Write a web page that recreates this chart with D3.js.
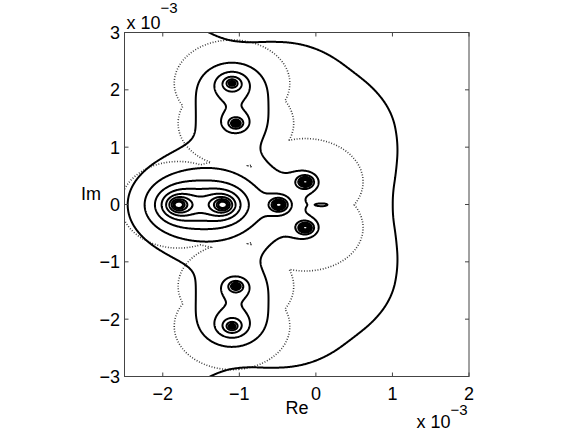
<!DOCTYPE html>
<html lang="en">
<head>
<meta charset="UTF-8">
<title>Pseudospectra contours</title>
<script src="https://cdn.jsdelivr.net/npm/d3@7"></script>
<style>
  body { margin: 0; background: #fff; }
  svg { display: block; font-family: "Liberation Sans", Arial, sans-serif; }
</style>
</head>
<body>
<svg id="chart" width="575" height="432"></svg>
<script>
// all positions in units of 1e-3

// eigenvalues: B1, B2, M, R+, R-, P+, P-, Q+, Q-
const eigRe = [-1.80, -1.22, -0.49, -0.144, -0.144, -1.05, -1.05, -1.10, -1.10];
const eigIm = [0, 0, 0, 0.40, -0.40, 1.42, -1.42, 2.12, -2.12];

// resolvent estimate: sum of weight / (|z - a| * |z - b|)^power
const termA      = [0, 5, 6, 2, 3, 4, 5, 6, 0, 1, 5, 6, 7, 8, 5, 6];
const termB      = [1, 7, 8, 2, 3, 4, 5, 6, 0, 1, 5, 6, 7, 8, 7, 8];
const termPower  = [1, 1, 1, 1, 1, 1, 1, 1, 0.5, 0.5, 0.25, 0.25, 0.25, 0.25, 0.5, 0.5];
const termWeight = [0.1445, 0.01849, 0.01849, 0.009538, 0.006588, 0.006588, 0.001757, 0.001757,
                    0.1489, 0.1489, 0.02417, 0.02417, 0.2743, 0.2743, 0.09836, 0.09836];

// small closed curve right of the origin
const bumpRe = 0.09, bumpIm = 0, bumpRx = 0.09, bumpRy = 0.03, bumpWeight = 0.2703;

// outer curve, radius vs angle around the body centre (mirrored below the axis)
const outerCenter = [-1.5, 0];
const outerAngle  = [0, 9.1, 21.3, 36.8, 46.9, 56.1, 61.6, 67.2, 74.9, 83.5, 90, 96.7, 110, 180];
const outerRadius = [2.47, 2.532, 2.748, 3.022, 3.028, 3.084, 3.15, 3.092, 2.92, 2.808, 3.0, 3.42, 3.6, 3.6];
const outerCap = 0.97;

// contour levels (solid), distance of the dotted curve to the spectrum
const solidLevels = [0.9, 1, 1.3, 1.69, 2.197, 2.856, 3.713, 4.827, 6.275, 8.157];
const dottedRadius = 0.755;

const xTicks = [-2, -1, 0, 1, 2];
const yTicks = [-3, -2, -1, 0, 1, 2, 3];

const svg = d3.select("#chart");
const x = d3.scaleLinear().domain([-2.5, 2]).range([124.5, 469]);
const y = d3.scaleLinear().domain([-3, 3]).range([376.5, 32.5]);

// smoothed radius profile for the outer curve
const radiusLin = d3.scaleLinear().domain(outerAngle).range(outerRadius).clamp(true);
const radiusTable = d3.range(0, 181).map(a => d3.mean(d3.range(-8, 9), k => radiusLin(Math.abs(a + k))));
function radiusAt(a) {
    const i = Math.min(Math.floor(a), 179), t = a - i;
    return radiusTable[i] * (1 - t) + radiusTable[i + 1] * t;
}

// sampling grid, a bit larger than the axes
const h = 0.01, gx0 = -2.6, gy0 = 3.1;
const nx = Math.round(4.7 / h) + 1, ny = Math.round(6.2 / h) + 1;
const solid = new Float64Array(nx * ny);
const dist = new Float64Array(nx * ny);
const r = new Float64Array(eigRe.length);

for (let j = 0; j < ny; j++) {
    const yy = gy0 - j * h;
    for (let i = 0; i < nx; i++) {
        const xx = gx0 + i * h;
        let dmin = Infinity;
        for (let k = 0; k < eigRe.length; k++) {
            r[k] = Math.sqrt(Math.max((xx - eigRe[k]) ** 2 + (yy - eigIm[k]) ** 2, 1e-10));
            if (r[k] < dmin) dmin = r[k];
        }
        let f = 0;
        for (let t = 0; t < termA.length; t++) {
            f += termWeight[t] * Math.pow(r[termA[t]] * r[termB[t]], -termPower[t]);
        }
        f += bumpWeight / (1 + ((xx - bumpRe) / bumpRx) ** 2 + ((yy - bumpIm) / bumpRy) ** 2);

        const dx = xx - outerCenter[0], dy = yy - outerCenter[1];
        const rho = Math.max(Math.hypot(dx, dy), 1e-6);
        const ang = Math.abs(Math.atan2(dy, dx)) * 180 / Math.PI;
        f = Math.max(f, Math.min(solidLevels[0] * radiusAt(ang) / rho, outerCap));

        solid[j * nx + i] = Math.log(f);
        dist[j * nx + i] = -dmin;
    }
}

const toScreen = d3.geoTransform({
    point: function(px, py) {
        this.stream.point(x(gx0 + px * h), y(gy0 - py * h));
    }
});
const path = d3.geoPath(toScreen);

svg.append("clipPath").attr("id", "plotClip")
    .append("rect")
    .attr("x", x(-2.5)).attr("y", y(3))
    .attr("width", x(2) - x(-2.5)).attr("height", y(-3) - y(3));

const plot = svg.append("g").attr("clip-path", "url(#plotClip)");

const dotted = d3.contours().size([nx, ny]).thresholds([-dottedRadius])(Array.from(dist));
plot.selectAll("path.dotted")
    .data(dotted)
    .join("path")
    .attr("class", "dotted")
    .attr("d", path)
    .attr("fill", "none")
    .attr("stroke", "#333")
    .attr("stroke-width", 1.6)
    .attr("stroke-dasharray", "0.9 1.8");

const contours = d3.contours().size([nx, ny]).thresholds(solidLevels.map(Math.log))(Array.from(solid));
plot.selectAll("path.solid")
    .data(contours)
    .join("path")
    .attr("class", "solid")
    .attr("d", path)
    .attr("fill", "none")
    .attr("stroke", "#000")
    .attr("stroke-width", 2)
    .attr("stroke-linejoin", "round");

// axes box and ticks
const axisColor = "#444";
svg.append("rect")
    .attr("x", x(-2.5)).attr("y", y(3))
    .attr("width", x(2) - x(-2.5)).attr("height", y(-3) - y(3))
    .attr("fill", "none").attr("stroke", axisColor).attr("stroke-width", 1);

const tickLen = 4;
const ticks = svg.append("g").attr("stroke", axisColor).attr("stroke-width", 1);
xTicks.forEach(t => {
    ticks.append("line").attr("x1", x(t)).attr("x2", x(t)).attr("y1", y(-3)).attr("y2", y(-3) - tickLen);
    ticks.append("line").attr("x1", x(t)).attr("x2", x(t)).attr("y1", y(3)).attr("y2", y(3) + tickLen);
});
yTicks.forEach(t => {
    ticks.append("line").attr("x1", x(-2.5)).attr("x2", x(-2.5) + tickLen).attr("y1", y(t)).attr("y2", y(t));
    ticks.append("line").attr("x1", x(2)).attr("x2", x(2) - tickLen).attr("y1", y(t)).attr("y2", y(t));
});

const fmt = t => t < 0 ? "\u2212" + Math.abs(t) : String(t);
const labels = svg.append("g").attr("font-size", 18).attr("fill", "#000");
xTicks.forEach(t => {
    labels.append("text").attr("x", x(t)).attr("y", 400)
        .attr("text-anchor", "middle").text(fmt(t));
});
yTicks.forEach(t => {
    labels.append("text").attr("x", 120).attr("y", y(t) + 6.5)
        .attr("text-anchor", "end").text(fmt(t));
});
labels.append("text").attr("x", 297).attr("y", 414).attr("text-anchor", "middle").text("Re");
labels.append("text").attr("x", 81).attr("y", 200).text("Im");

// exponent labels
function exponent(xPos, yBase, lift) {
    const g = svg.append("text").attr("x", xPos).attr("y", yBase).attr("font-size", 18);
    g.append("tspan").text("x 10");
    g.append("tspan").attr("dy", -lift).attr("font-size", 15).text("\u22123");
}
exponent(126.5, 28.5, 16);
exponent(416.5, 428, 13);
</script>
</body>
</html>
